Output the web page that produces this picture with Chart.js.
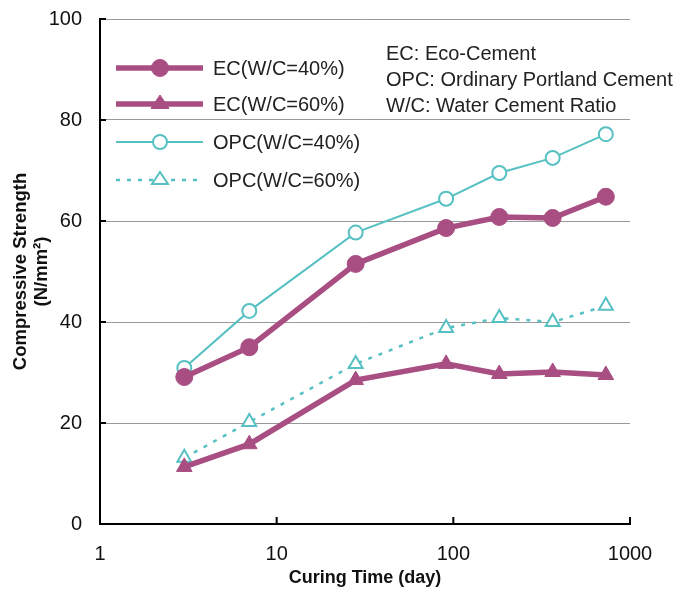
<!DOCTYPE html>
<html>
<head>
<meta charset="utf-8">
<script src="https://cdn.jsdelivr.net/npm/chart.js@4"></script>
<style>
  html, body { margin: 0; padding: 0; background: #fff; }
  #wrap { width: 688px; height: 592px; }
</style>
</head>
<body>
<div id="wrap"><canvas id="strengthChart" width="688" height="592"></canvas></div>
<script>
// curing time (days) and compressive strength
var days = [3, 7, 28, 91, 182, 365, 730];
var ec40 = [29.1, 35.0, 51.5, 58.6, 60.8, 60.6, 64.8];
var ec60 = [11.3, 15.8, 28.5, 31.7, 29.7, 30.1, 29.5];
var opc40 = [30.9, 42.2, 57.7, 64.4, 69.5, 72.5, 77.2];
var opc60 = [13.1, 20.2, 31.7, 38.8, 40.8, 40.0, 43.2];
var xTicks = [1, 10, 100, 1000];
var yTicks = [0, 20, 40, 60, 80, 100];
var notes = ['EC: Eco-Cement', 'OPC: Ordinary Portland Cement', 'W/C: Water Cement Ratio'];

var purple = 'rgb(168, 78, 130)';
var teal = 'rgb(86, 192, 194)';
var font = '"Liberation Sans", Arial, sans-serif';

function pts(vals) {
  return days.map((d, i) => ({ x: d, y: vals[i] }));
}

var series = [
  { label: 'EC(W/C=40%)', data: pts(ec40), borderColor: purple, backgroundColor: purple, borderWidth: 5.5,
    pointStyle: 'circle', pointRadius: 8.5, pointBorderWidth: 1 },
  { label: 'EC(W/C=60%)', data: pts(ec60), borderColor: purple, backgroundColor: purple, borderWidth: 5.5,
    pointStyle: 'triangle', pointRadius: 9, pointBorderWidth: 1 },
  { label: 'OPC(W/C=40%)', data: pts(opc40), borderColor: teal, backgroundColor: '#fff', borderWidth: 2,
    pointStyle: 'circle', pointRadius: 7, pointBorderWidth: 2 },
  { label: 'OPC(W/C=60%)', data: pts(opc60), borderColor: teal, backgroundColor: '#fff', borderWidth: 2.5,
    borderDash: [4, 7], pointStyle: 'triangle', pointRadius: 8, pointBorderWidth: 2 }
];

function marker(ctx, s, x, y) {
  ctx.save();
  ctx.setLineDash([]);
  ctx.fillStyle = s.backgroundColor;
  ctx.strokeStyle = s.borderColor;
  ctx.lineWidth = s.pointBorderWidth;
  var r = s.pointRadius;
  ctx.beginPath();
  if (s.pointStyle === 'circle') {
    ctx.arc(x, y, r, 0, Math.PI * 2);
  } else {
    var h = r * 1.5;
    ctx.moveTo(x, y - h * 2 / 3);
    ctx.lineTo(x + r, y + h / 3);
    ctx.lineTo(x - r, y + h / 3);
    ctx.closePath();
  }
  ctx.fill();
  ctx.stroke();
  ctx.restore();
}

var overlay = {
  id: 'overlay',
  afterDatasetsDraw: function (chart) {
    var ctx = chart.ctx;
    var xs = chart.scales.x;
    var ys = chart.scales.y;
    var area = chart.chartArea;
    // inward ticks on both axes
    ctx.save();
    ctx.strokeStyle = '#000';
    ctx.lineWidth = 2;
    xTicks.slice(1).forEach(function (v) {
      var px = xs.getPixelForValue(v);
      ctx.beginPath();
      ctx.moveTo(px, area.bottom);
      ctx.lineTo(px, area.bottom - 7);
      ctx.stroke();
    });
    yTicks.slice(1).forEach(function (v) {
      var py = ys.getPixelForValue(v);
      ctx.beginPath();
      ctx.moveTo(area.left, py);
      ctx.lineTo(area.left + 6, py);
      ctx.stroke();
    });
    ctx.restore();

    // legend inside plot
    var rows = [68, 104, 142, 180];
    series.forEach(function (s, i) {
      var y = rows[i];
      ctx.save();
      ctx.strokeStyle = s.borderColor;
      ctx.lineWidth = s.borderWidth;
      ctx.setLineDash(s.borderDash || []);
      ctx.beginPath();
      ctx.moveTo(116, y);
      ctx.lineTo(203, y);
      ctx.stroke();
      ctx.restore();
      marker(ctx, s, 160, y);
      ctx.save();
      ctx.fillStyle = '#222';
      ctx.font = '20px ' + font;
      ctx.textBaseline = 'middle';
      ctx.fillText(s.label, 213, y + 1);
      ctx.restore();
    });

    // abbreviations note
    ctx.save();
    ctx.fillStyle = '#222';
    ctx.font = '20px ' + font;
    ctx.textBaseline = 'middle';
    notes.forEach(function (t, i) {
      ctx.fillText(t, 386, 54 + i * 26);
    });
    ctx.restore();
  }
};

var ctx = document.getElementById('strengthChart').getContext('2d');
var strengthChart = new Chart(ctx, {
  type: 'line',
  data: { datasets: series },
  options: {
    responsive: false,
    animation: false,
    layout: { padding: { top: 19, right: 58, left: 0, bottom: 0 } },
    plugins: {
      legend: { display: false },
      tooltip: { enabled: false }
    },
    scales: {
      x: {
        type: 'logarithmic',
        min: 1,
        max: 1000,
        afterBuildTicks: function (scale) {
          scale.ticks = xTicks.map(v => ({ value: v }));
        },
        afterFit: function (scale) {
          scale.height = 68;
          scale.paddingLeft = 0;
          scale.paddingRight = 0;
        },
        grid: { display: false, drawTicks: false },
        border: { color: '#000', width: 2 },
        ticks: {
          autoSkip: false,
          maxRotation: 0,
          padding: 18,
          color: '#111',
          font: { family: font, size: 20 },
          callback: function (v) { return String(v); }
        },
        title: {
          display: true,
          text: 'Curing Time (day)',
          color: '#111',
          padding: { top: 0, bottom: 3 },
          font: { family: font, size: 18, weight: 'bold' }
        }
      },
      y: {
        min: 0,
        max: 100,
        afterBuildTicks: function (scale) {
          scale.ticks = yTicks.map(v => ({ value: v }));
        },
        afterFit: function (scale) {
          scale.width = 100;
          scale.paddingTop = 0;
          scale.paddingBottom = 0;
        },
        grid: { color: '#999', lineWidth: 1, drawTicks: false },
        border: { color: '#000', width: 2 },
        ticks: {
          padding: 18,
          color: '#111',
          font: { family: font, size: 20 }
        },
        title: {
          display: true,
          text: ['Compressive Strength', '(N/mm²)'],
          color: '#111',
          padding: { top: 10, bottom: 0 },
          font: { family: font, size: 18.5, weight: 'bold', lineHeight: 1.15 }
        }
      }
    }
  },
  plugins: [overlay]
});
</script>
</body>
</html>
